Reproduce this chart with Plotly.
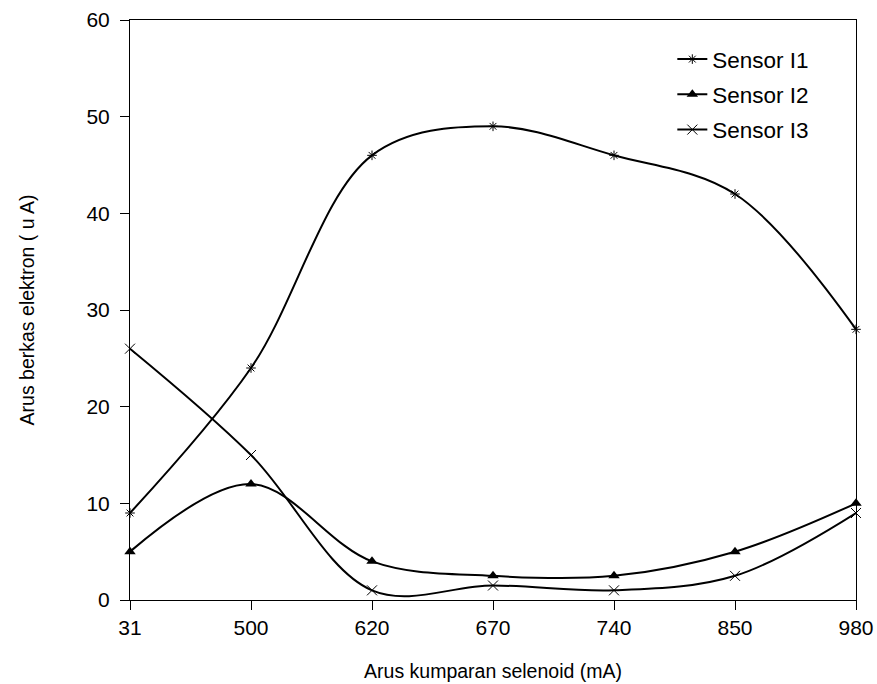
import plotly.graph_objects as go

categories = ["31", "500", "620", "670", "740", "850", "980"]
sensor_i1 = [9, 24, 46, 49, 46, 42, 28]
sensor_i2 = [5, 12, 4, 2.5, 2.5, 5, 10]
sensor_i3 = [26, 15, 1, 1.5, 1, 2.5, 9]

xpos = list(range(len(categories)))

fig = go.Figure()
fig.add_trace(go.Scatter(x=xpos, y=sensor_i1, name="Sensor I1", mode="lines+markers",
                         legendgroup="a",
                         line=dict(color="black", width=2, shape="spline", smoothing=1),
                         marker=dict(symbol="asterisk-open", size=8, color="black",
                                     line=dict(color="black", width=1)),
                         cliponaxis=False))
fig.add_trace(go.Scatter(x=xpos, y=sensor_i2, name="Sensor I2", mode="lines+markers",
                         legendgroup="b",
                         line=dict(color="black", width=2, shape="spline", smoothing=1),
                         marker=dict(symbol="triangle-up", size=10, color="black"),
                         cliponaxis=False))
fig.add_trace(go.Scatter(x=xpos, y=sensor_i3, name="Sensor I3", mode="lines+markers",
                         legendgroup="c",
                         line=dict(color="black", width=2, shape="spline", smoothing=1),
                         marker=dict(symbol="x-thin-open", size=10, color="black",
                                     line=dict(color="black", width=1)),
                         cliponaxis=False))

fig.update_layout(
    width=877, height=684,
    margin=dict(l=130, r=21, t=20, b=84),
    paper_bgcolor="white", plot_bgcolor="white",
    font=dict(family="Liberation Sans, Arial", size=21, color="black"),
    legend=dict(x=0.747, y=0.969, xanchor="left", yanchor="top",
                bgcolor="rgba(0,0,0,0)", font=dict(size=22.5),
                itemwidth=30, tracegroupgap=3),
    xaxis=dict(range=[0, 6], tickvals=xpos, ticktext=categories,
               showline=True, mirror=True, linecolor="black", linewidth=1,
               ticks="outside", ticklen=9, tickcolor="black",
               showgrid=False, zeroline=False, automargin=False,
               ticklabeloverflow="allow", tickfont=dict(size=21),
               title=dict(text="Arus kumparan selenoid (mA)", standoff=26,
                          font=dict(size=19.5))),
    yaxis=dict(range=[0, 60], dtick=10,
               showline=True, mirror=True, linecolor="black", linewidth=1,
               ticks="outside", ticklen=9, tickcolor="black",
               showgrid=False, zeroline=False, automargin=False,
               ticklabeloverflow="allow", tickfont=dict(size=21),
               ticklabelstandoff=6,
               title=dict(text="Arus berkas elektron ( u A)", standoff=46,
                          font=dict(size=19.5))),
)

# drop the default 8px body margin so the figure sits at the window origin
fig.write_html("out.html", config={"displayModeBar": False},
               post_script="document.body.style.margin='0';document.body.style.overflow='hidden';")
